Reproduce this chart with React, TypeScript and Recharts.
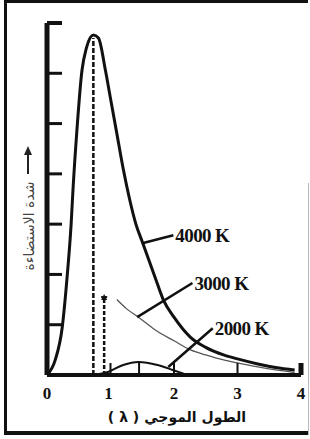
import React from 'react';
import {
  LineChart,
  Line,
  XAxis,
  YAxis,
  ReferenceLine,
  ReferenceDot
} from 'recharts';

// wavelength (x) and intensity (y)
const wl4000 = [0, 0.13, 0.24, 0.32, 0.38, 0.41, 0.47, 0.55, 0.62, 0.73, 0.81, 0.92, 1.0, 1.1, 1.2, 1.3, 1.4, 1.5, 1.7, 1.83, 2.0, 2.26, 2.5, 2.78, 3.0, 3.32, 3.6, 3.9];
const i4000 = [0, 0.3, 0.95, 2.0, 3.0, 3.7, 4.85, 6.05, 6.5, 6.76, 6.7, 6.06, 5.5, 4.8, 4.1, 3.5, 3.0, 2.65, 1.95, 1.5, 1.15, 0.75, 0.55, 0.4, 0.32, 0.22, 0.15, 0.1];

const wl3000 = [1.1, 1.25, 1.44, 1.7, 2.0, 2.26, 2.5, 2.78, 3.0, 3.32, 3.6, 3.9];
const i3000 = [1.5, 1.32, 1.15, 0.9, 0.68, 0.5, 0.4, 0.3, 0.24, 0.16, 0.1, 0.05];

const wl2000 = [0.73, 0.96, 1.2, 1.44, 1.74, 1.98, 2.21];
const i2000 = [0, 0.06, 0.2, 0.26, 0.2, 0.1, 0];

const xTicks = [0, 1, 2, 3, 4];
const yTicks = [0, 1, 2, 3, 4, 5, 6, 7];

// peak markers (x, top y)
const peak4000 = [0.73, 6.7];
const peak3000 = [0.9, 1.55];
const peak2000 = [1.45, 0.26];

// leader lines: [curve x, curve y, label x, label y]
const curveLabels = ['4000 K', '3000 K', '2000 K'];
const leaders = [
  [1.5, 2.62, 1.99, 2.78],
  [1.42, 1.15, 2.29, 1.83],
  [1.91, 0.16, 2.61, 0.93]
];

const xLabel = 'الطول الموجي ( λ )';
const yLabel = 'شدة الاستضاءة';

const toPoints = (xs: number[], ys: number[]) => xs.map((x, i) => ({ x, y: ys[i] }));

const serif = '"Liberation Serif", "DejaVu Serif", serif';
const arabic = '"DejaVu Sans", sans-serif';

const XTick = (props: any) => {
  const { x, y, payload } = props;
  const v = payload.value;
  return (
    <g>
      {v > 0 && (
        <line x1={x} x2={x} y1={y} y2={y - 12} stroke="#111" strokeWidth={v === 4 ? 5 : 2} />
      )}
      <text
        x={v === 1 ? x - 2 : x}
        y={y + 18}
        textAnchor="middle"
        dominantBaseline="central"
        fontFamily={serif}
        fontWeight="bold"
        fontSize={17}
        fill="#111"
      >
        {v}
      </text>
    </g>
  );
};

const YTick = (props: any) => {
  const { x, y, payload } = props;
  if (payload.value === 0) return <g />;
  return (
    <line x1={x} x2={x + 15} y1={y} y2={y} stroke="#111" strokeWidth={payload.value === 7 ? 4 : 3} />
  );
};

const ArrowHead = (props: any) => {
  const { cx, cy } = props;
  return (
    <g>
      <line x1={cx - 3} x2={cx + 3} y1={cy} y2={cy} stroke="#111" strokeWidth={2} />
      <polygon points={`${cx},${cy - 3} ${cx - 3},${cy + 3} ${cx + 3},${cy + 3}`} fill="#111" />
    </g>
  );
};

const YTitle = () => (
  <g>
    <line x1={28} x2={28} y1={174} y2={154} stroke="#222" strokeWidth={2} />
    <polygon points="28,146 24,155 32,155" fill="#222" />
    <text
      x={29}
      y={226}
      transform="rotate(-90, 29, 226)"
      textAnchor="middle"
      dominantBaseline="central"
      direction="rtl"
      fontFamily={arabic}
      fontSize={14}
      fill="#444"
    >
      {yLabel}
    </text>
  </g>
);

const XTitle = () => (
  <text
    x={177}
    y={417}
    textAnchor="middle"
    dominantBaseline="central"
    direction="rtl"
    fontFamily={arabic}
    fontWeight="bold"
    fontSize={14}
    fill="#111"
  >
    {xLabel}
  </text>
);

export default function App() {
  return (
    <div style={{ position: 'absolute', left: 0, top: 0, width: 310, height: 439, background: '#fff' }}>
      {/* frame */}
      <div style={{ position: 'absolute', left: 4, top: 0, width: 304, height: 3, background: '#111' }} />
      <div style={{ position: 'absolute', left: 4, top: 0, width: 3, height: 435, background: '#111' }} />
      <div style={{ position: 'absolute', left: 4, top: 431, width: 304, height: 4, background: '#111' }} />
      <div style={{ position: 'absolute', left: 308, top: 183, width: 1, height: 252, background: '#bbb' }} />
      <div style={{ position: 'absolute', left: 0, top: 0 }}>
        <LineChart width={310} height={439} margin={{ top: 23, right: 9, bottom: 0, left: 0 }}>
          <XAxis
            dataKey="x"
            type="number"
            domain={[0, 4]}
            ticks={xTicks}
            height={64}
            tickSize={0}
            tickMargin={0}
            tickLine={false}
            axisLine={{ stroke: '#111', strokeWidth: 4 }}
            tick={XTick}
            label={{ content: XTitle }}
          />
          <YAxis
            dataKey="y"
            type="number"
            domain={[0, 7]}
            ticks={yTicks}
            width={47}
            tickSize={0}
            tickMargin={0}
            tickLine={false}
            axisLine={{ stroke: '#111', strokeWidth: 5 }}
            tick={YTick}
            label={{ content: YTitle }}
          />
          <ReferenceLine
            segment={[{ x: peak4000[0], y: 0 }, { x: peak4000[0], y: peak4000[1] }]}
            stroke="#111"
            strokeWidth={2.5}
            strokeDasharray="5 2"
          />
          <ReferenceLine
            segment={[{ x: peak3000[0], y: 0 }, { x: peak3000[0], y: peak3000[1] }]}
            stroke="#111"
            strokeWidth={2.5}
            strokeDasharray="4 2"
          />
          <ReferenceDot x={peak3000[0]} y={peak3000[1]} r={3} shape={ArrowHead} />
          <ReferenceLine
            segment={[{ x: peak2000[0], y: 0 }, { x: peak2000[0], y: peak2000[1] }]}
            stroke="#111"
            strokeWidth={2}
          />
          <Line
            data={toPoints(wl4000, i4000)}
            dataKey="y"
            type="monotone"
            stroke="#111"
            strokeWidth={3}
            dot={false}
            isAnimationActive={false}
          />
          <Line
            data={toPoints(wl3000, i3000)}
            dataKey="y"
            type="monotone"
            stroke="#555"
            strokeWidth={1.3}
            dot={false}
            isAnimationActive={false}
          />
          <Line
            data={toPoints(wl2000, i2000)}
            dataKey="y"
            type="monotone"
            stroke="#111"
            strokeWidth={2}
            dot={false}
            isAnimationActive={false}
          />
          {leaders.map((l, i) => (
            <ReferenceLine
              key={'l' + i}
              segment={[{ x: l[0], y: l[1] }, { x: l[2], y: l[3] }]}
              stroke="#111"
              strokeWidth={2.5}
            />
          ))}
          {leaders.map((l, i) => (
            <ReferenceDot
              key={'d' + i}
              x={l[2]}
              y={l[3]}
              r={0}
              fill="none"
              stroke="none"
              label={{
                value: curveLabels[i],
                position: 'right',
                offset: 2,
                fill: '#111',
                fontFamily: serif,
                fontWeight: 'bold',
                fontSize: 19,
                letterSpacing: -0.6
              }}
            />
          ))}
        </LineChart>
      </div>
    </div>
  );
}
